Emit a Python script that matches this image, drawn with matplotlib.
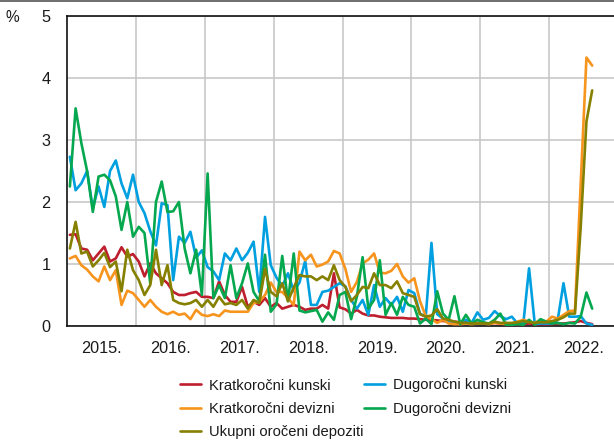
import numpy as np
import matplotlib
matplotlib.use("Agg")
import matplotlib.pyplot as plt
from matplotlib.lines import Line2D

plt.rcParams['font.family'] = ['Liberation Sans', 'DejaVu Sans']

# Monthly interest rates on new time deposits, Jan 2015 onwards (%)
kratkorocni_kunski = [
    1.47, 1.48, 1.25, 1.23, 1.06, 1.17, 1.28, 1.04, 1.09, 1.27, 1.12, 1.16,
    1.04, 0.80, 1.01, 0.85, 0.77, 0.69, 0.55, 0.50, 0.50, 0.53, 0.55, 0.47,
    0.47, 0.45, 0.72, 0.50, 0.39, 0.39, 0.63, 0.31, 0.39, 0.34, 0.45, 0.31,
    0.37, 0.28, 0.31, 0.34, 0.31, 0.26, 0.28, 0.28, 0.34, 0.28, 0.85, 0.30,
    0.27, 0.20, 0.26, 0.20, 0.17, 0.17, 0.15, 0.14, 0.13, 0.13, 0.13, 0.12,
    0.12, 0.11, 0.10, 0.10, 0.09, 0.08, 0.08, 0.07, 0.06, 0.06, 0.05, 0.05,
    0.05, 0.04, 0.05, 0.04, 0.04, 0.03, 0.03, 0.03, 0.04, 0.03, 0.03, 0.03,
    0.03, 0.04, 0.04, 0.05, 0.06, 0.08, 0.05, 0.03,
]
kratkorocni_devizni = [
    1.09, 1.13, 0.98, 0.91, 0.80, 0.72, 0.96, 0.74, 0.90, 0.34, 0.57, 0.53,
    0.42, 0.31, 0.42, 0.31, 0.23, 0.19, 0.23, 0.18, 0.20, 0.11, 0.26, 0.18,
    0.16, 0.19, 0.16, 0.25, 0.23, 0.23, 0.23, 0.23, 0.37, 0.39, 0.50, 0.70,
    0.55, 0.55, 0.45, 0.34, 1.20, 1.06, 1.15, 0.96, 0.99, 1.04, 1.21, 1.17,
    0.92, 0.55, 0.71, 1.01, 1.07, 1.17, 0.86, 0.85, 0.89, 1.00, 0.80, 0.70,
    0.77, 0.40, 0.16, 0.11, 0.05, 0.10, 0.04, 0.03, 0.03, 0.04, 0.03, 0.04,
    0.04, 0.03, 0.05, 0.04, 0.03, 0.04, 0.07, 0.10, 0.07, 0.05, 0.10, 0.07,
    0.15, 0.12, 0.18, 0.24, 0.25, 2.30, 4.33, 4.20,
]
dugorocni_kunski = [
    2.73, 2.19, 2.30, 2.50, 1.90, 2.25, 1.92, 2.50, 2.67, 2.30, 2.06, 2.44,
    2.00, 1.82, 1.53, 1.30, 1.98, 1.95, 0.74, 1.44, 1.34, 1.52, 1.10, 1.22,
    0.95, 0.88, 0.74, 1.17, 1.06, 1.25, 1.06, 1.18, 1.36, 0.55, 1.76, 0.98,
    0.78, 0.64, 0.85, 0.56, 0.70, 1.05, 0.34, 0.34, 0.55, 0.57, 0.63, 0.69,
    0.64, 0.42, 0.28, 0.42, 0.18, 0.66, 0.31, 0.45, 0.34, 0.47, 0.23, 0.58,
    0.53, 0.20, 0.15, 1.34, 0.19, 0.12, 0.08, 0.06, 0.06, 0.10, 0.05, 0.22,
    0.10, 0.13, 0.24, 0.16, 0.11, 0.15, 0.04, 0.04, 0.93, 0.03, 0.04, 0.04,
    0.04, 0.10, 0.69, 0.15, 0.15, 0.16, 0.04, 0.02,
]
dugorocni_devizni = [
    2.25, 3.51, 2.95, 2.50, 1.84, 2.41, 2.44, 2.35, 2.09, 1.55, 2.00, 1.44,
    1.60, 1.50, 0.69, 2.00, 2.33, 1.84, 1.85, 2.00, 1.25, 0.85, 1.23, 0.50,
    2.46, 0.45, 0.66, 0.45, 0.98, 0.45, 0.69, 1.01, 0.55, 0.40, 1.15, 0.23,
    0.35, 1.13, 0.40, 1.17, 0.25, 0.22, 0.24, 0.26, 0.07, 0.22, 0.10, 0.50,
    0.55, 0.11, 0.47, 1.11, 0.28, 0.42, 1.06, 0.18, 0.37, 0.18, 0.47, 0.34,
    0.31, 0.04, 0.12, 0.03, 0.56, 0.20, 0.10, 0.48, 0.03, 0.18, 0.04, 0.10,
    0.06, 0.04, 0.10, 0.20, 0.02, 0.02, 0.03, 0.02, 0.10, 0.02, 0.11, 0.07,
    0.04, 0.05, 0.03, 0.05, 0.04, 0.15, 0.54, 0.28,
]
ukupni_oroceni = [
    1.25, 1.68, 1.17, 1.20, 0.96, 1.06, 1.18, 0.95, 1.04, 0.56, 1.23, 0.90,
    0.74, 0.50, 0.66, 1.23, 0.66, 0.98, 0.42, 0.37, 0.35, 0.37, 0.42, 0.31,
    0.42, 0.31, 0.47, 0.35, 0.37, 0.34, 0.42, 0.28, 0.42, 0.37, 0.92, 0.55,
    0.48, 0.69, 0.40, 0.62, 0.82, 0.80, 0.80, 0.74, 0.80, 0.74, 0.98, 0.74,
    0.63, 0.40, 0.50, 0.63, 0.61, 0.85, 0.66, 0.66, 0.61, 0.72, 0.53, 0.50,
    0.47, 0.19, 0.15, 0.17, 0.27, 0.12, 0.10, 0.07, 0.05, 0.05, 0.04, 0.04,
    0.04, 0.04, 0.07, 0.05, 0.05, 0.05, 0.06, 0.08, 0.06, 0.05, 0.06, 0.06,
    0.08, 0.10, 0.14, 0.20, 0.20, 1.60, 3.30, 3.80,
]

years = ["2015.", "2016.", "2017.", "2018.", "2019.", "2020.", "2021.", "2022."]
y_ticks = [0, 1, 2, 3, 4, 5]

labels = {
    "kk": "Kratkoročni kunski",
    "kd": "Kratkoročni devizni",
    "dk": "Dugoročni kunski",
    "dd": "Dugoročni devizni",
    "uk": "Ukupni oročeni depoziti",
}
colors = {
    "kk": "#be1e2d",
    "kd": "#f7941d",
    "dk": "#00a0e0",
    "dd": "#05a84e",
    "uk": "#868000",
}
series = {
    "kk": kratkorocni_kunski,
    "dk": dugorocni_kunski,
    "kd": kratkorocni_devizni,
    "dd": dugorocni_devizni,
    "uk": ukupni_oroceni,
}

W, H = 614, 441
fig = plt.figure(figsize=(W / 100, H / 100), dpi=100)
ax = fig.add_axes([67 / W, (H - 326) / H, 1 - 67 / W, 310 / H])

FS = 11.7
LEG_FS = 10.6
lines = {}
for key, vals in series.items():
    months = np.arange(len(vals)) + 0.5  # mid-month positions
    (ln,) = ax.plot(months, vals, color=colors[key], lw=1.9,
                    solid_joinstyle="round", solid_capstyle="round",
                    label=labels[key], zorder=3)
    lines[key] = ln

ax.set_xlim(0, 95.3)
ax.set_ylim(0, 5)

# year boundaries carry the grid, mid-year positions carry the labels
ax.set_xticks([12 * k for k in range(1, len(years))])
ax.set_xticklabels([])
ax.set_xticks([6 + 12 * k for k in range(len(years))], minor=True)
ax.set_xticklabels(years, minor=True, fontsize=FS, color="#1a1a1a")
ax.tick_params(axis="x", which="both", length=0)
ax.tick_params(axis="x", which="minor", pad=10.5)

ax.set_yticks(y_ticks)
ax.set_yticklabels([str(v) for v in y_ticks], fontsize=FS, color="#1a1a1a")
ax.tick_params(axis="y", length=0, pad=12)

ax.grid(True, which="major", color="#c8c8c8", lw=1.2, zorder=0)
ax.set_axisbelow(True)

for side in ("left", "bottom", "top"):
    ax.spines[side].set_color("#111111")
    ax.spines[side].set_linewidth(1.2)
ax.spines["right"].set_visible(False)

fig.text(6 / W, 1 - 18 / H, "%", fontsize=FS - 0.5, ha="left", va="center",
         color="#1a1a1a")

# thin rule along the very top of the figure
fig.add_artist(Line2D([0, 1], [1 - 0.8 / H, 1 - 0.8 / H], color="#555555",
                      lw=1.2, transform=fig.transFigure))

leg_kw = dict(loc="upper left", frameon=False, fontsize=LEG_FS, borderpad=0,
              borderaxespad=0, handlelength=1.4, handletextpad=0.55,
              labelspacing=0.64, labelcolor="#1a1a1a")
leg1 = fig.legend([lines["kk"], lines["kd"], lines["uk"]],
                  [labels["kk"], labels["kd"], labels["uk"]],
                  bbox_to_anchor=(180 / W, 1 - 378.5 / H), **leg_kw)
leg2 = fig.legend([lines["dk"], lines["dd"]],
                  [labels["dk"], labels["dd"]],
                  bbox_to_anchor=(364 / W, 1 - 378.5 / H), **leg_kw)

fig.savefig("out.png", dpi=100)
